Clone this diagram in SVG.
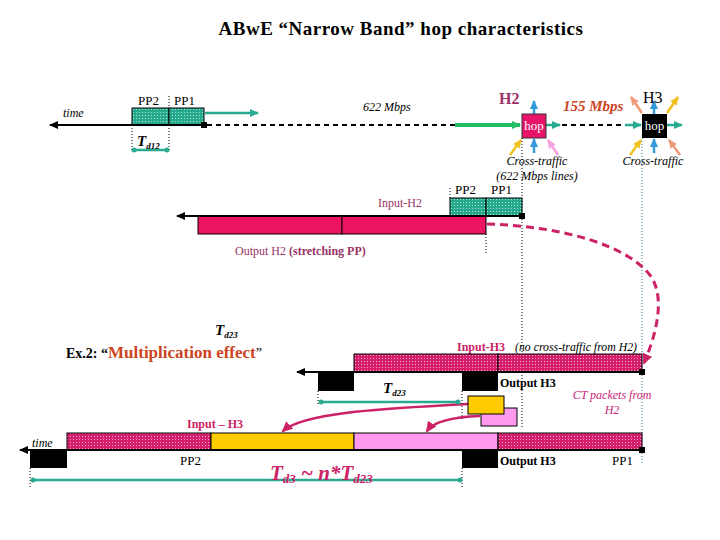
<svg xmlns="http://www.w3.org/2000/svg" width="720" height="540" viewBox="0 0 720 540" font-family="'Liberation Serif', 'DejaVu Serif', 'Times New Roman', serif">
<defs>
<pattern id="tealDots" width="3" height="3" patternUnits="userSpaceOnUse"><rect width="3" height="3" fill="#25a88c"/><rect x="1" y="1" width="1" height="1" fill="#a8e6d6"/></pattern>
<pattern id="pinkDots" width="3" height="3" patternUnits="userSpaceOnUse"><rect width="3" height="3" fill="#d51f6c"/><rect x="1" y="1" width="1" height="1" fill="#f7a8cc"/></pattern>
<marker id="mBlack" markerUnits="userSpaceOnUse" markerWidth="10" markerHeight="10" refX="8" refY="5" orient="auto"><path d="M0,1 L9,5 L0,9 z" fill="#000"/></marker>
<marker id="mTeal" markerUnits="userSpaceOnUse" markerWidth="10" markerHeight="10" refX="8" refY="5" orient="auto"><path d="M0,1 L9,5 L0,9 z" fill="#2aaa90"/></marker>
<marker id="mGreen" markerUnits="userSpaceOnUse" markerWidth="10" markerHeight="10" refX="8" refY="5" orient="auto"><path d="M0,1 L9,5 L0,9 z" fill="#22bb66"/></marker>
<marker id="mBlue" markerUnits="userSpaceOnUse" markerWidth="10" markerHeight="10" refX="8" refY="5" orient="auto"><path d="M0,1 L9,5 L0,9 z" fill="#3399dd"/></marker>
<marker id="mYellow" markerUnits="userSpaceOnUse" markerWidth="10" markerHeight="10" refX="8" refY="5" orient="auto"><path d="M0,1 L9,5 L0,9 z" fill="#f0c020"/></marker>
<marker id="mPink" markerUnits="userSpaceOnUse" markerWidth="10" markerHeight="10" refX="8" refY="5" orient="auto"><path d="M0,1 L9,5 L0,9 z" fill="#f5a0e0"/></marker>
<marker id="mSalmon" markerUnits="userSpaceOnUse" markerWidth="10" markerHeight="10" refX="8" refY="5" orient="auto"><path d="M0,1 L9,5 L0,9 z" fill="#ee9977"/></marker>
<marker id="mCrimson" markerUnits="userSpaceOnUse" markerWidth="12" markerHeight="12" refX="9" refY="6" orient="auto"><path d="M0,1 L11,6 L0,11 z" fill="#cc2266"/></marker>
<marker id="dotTeal" markerUnits="userSpaceOnUse" markerWidth="6" markerHeight="6" refX="3" refY="3"><circle cx="3" cy="3" r="2.5" fill="#2aaa90"/></marker>
</defs>
<style>
text{font-family:'Liberation Serif','DejaVu Serif','Times New Roman',serif;}
.tl{stroke:#000;stroke-width:2;fill:none;}
.dotv{stroke:#000;stroke-width:1;stroke-dasharray:1,2;fill:none;}
.dotb{stroke:#3a7f99;stroke-width:1;stroke-dasharray:1,2;fill:none;}
.teal{stroke:#2aaa90;stroke-width:2.5;fill:none;}
.blue{stroke:#3399dd;stroke-width:2.5;fill:none;}
.yel{stroke:#f0c020;stroke-width:2.5;fill:none;}
.pnk{stroke:#f5a0e0;stroke-width:2.5;fill:none;}
.sal{stroke:#ee9977;stroke-width:2.5;fill:none;}
.dash{stroke:#000;stroke-width:2;stroke-dasharray:5,4;fill:none;}
.crim{stroke:#cc2266;stroke-width:2.5;fill:none;}
.box{stroke:#000;stroke-width:1;}
.lbl{font-size:13px;fill:#000;}
.it{font-style:italic;}
.mag{fill:#993366;}
.hop{font-size:13px;fill:#fff;}
</style>

<text x="401" y="35" text-anchor="middle" font-size="19" font-weight="bold" letter-spacing="0.5">ABwE “Narrow Band” hop characteristics</text>

<g id="row1">
<text x="63" y="117" class="it" font-size="12">time</text>
<text x="138" y="105" class="lbl">PP2</text>
<text x="174" y="105" class="lbl">PP1</text>
<line class="dotv" x1="169" y1="96" x2="169" y2="108"/>
<rect class="box" x="132" y="108" width="37" height="17" fill="url(#tealDots)"/>
<rect class="box" x="169" y="108" width="35" height="17" fill="url(#tealDots)"/>
<line class="tl" x1="204" y1="125" x2="50" y2="125" marker-end="url(#mBlack)"/>
<rect x="201" y="122" width="6" height="6" fill="#000"/>
<line class="teal" x1="205" y1="113" x2="258" y2="113" marker-end="url(#mTeal)"/>
<line class="dotv" x1="132" y1="125" x2="132" y2="152"/>
<line class="dotv" x1="169" y1="125" x2="169" y2="152"/>
<line class="teal" x1="134" y1="150" x2="167" y2="150" marker-start="url(#dotTeal)" marker-end="url(#dotTeal)"/>
<text x="137" y="146" class="it" font-size="15" font-weight="bold">T<tspan font-size="9" dy="3">d12</tspan></text>
<text x="363" y="111" class="it" font-size="12">622 Mbps</text>
</g>

<g id="connectors">
<line class="dash" x1="207" y1="125" x2="455" y2="125"/>
<line x1="455" y1="125" x2="520" y2="125" stroke="#22bb66" stroke-width="4" marker-end="url(#mGreen)"/>
<line class="teal" x1="546" y1="125" x2="560" y2="125" marker-end="url(#mTeal)"/>
<line class="dash" x1="562" y1="125" x2="625" y2="125"/>
<line class="teal" x1="625" y1="125" x2="641" y2="125" marker-end="url(#mTeal)"/>
<line class="teal" x1="667" y1="125" x2="682" y2="125" marker-end="url(#mTeal)"/>
<line class="blue" x1="534" y1="114" x2="534" y2="101" marker-end="url(#mBlue)"/>
<line class="blue" x1="534" y1="153" x2="534" y2="139" marker-end="url(#mBlue)"/>
<line class="yel" x1="510" y1="155" x2="521" y2="140" marker-end="url(#mYellow)"/>
<line class="pnk" x1="558" y1="155" x2="548" y2="140" marker-end="url(#mPink)"/>
<line class="blue" x1="654" y1="114" x2="654" y2="101" marker-end="url(#mBlue)"/>
<line class="blue" x1="654" y1="153" x2="654" y2="139" marker-end="url(#mBlue)"/>
<line class="sal" x1="642" y1="113" x2="631" y2="97" marker-end="url(#mSalmon)"/>
<line class="yel" x1="667" y1="113" x2="678" y2="97" marker-end="url(#mYellow)"/>
<line class="yel" x1="630" y1="155" x2="641" y2="140" marker-end="url(#mYellow)"/>
<line class="sal" x1="680" y1="155" x2="669" y2="140" marker-end="url(#mSalmon)"/>
<line class="dotv" x1="522" y1="138" x2="522" y2="427"/>
<line class="dotb" x1="642" y1="138" x2="642" y2="463"/>
<path d="M487,224 C560,226 630,245 652,278 C665,300 656,335 644,363" stroke="#cc2266" stroke-width="3" stroke-dasharray="8,5" fill="none" marker-end="url(#mCrimson)"/>
<path class="crim" d="M468,404 C400,408 305,411 283,431" marker-end="url(#mCrimson)"/>
<path class="crim" d="M480,416 C452,417 434,421 427,431" marker-end="url(#mCrimson)"/>
</g>

<g id="H2">
<text x="499" y="104" font-size="16" font-weight="bold" class="mag">H2</text>
<rect x="522" y="114" width="24" height="24" fill="#e8146a" stroke="#333" stroke-width="1"/>
<text x="534" y="130" text-anchor="middle" class="hop">hop</text>
<text x="537" y="165" text-anchor="middle" class="it" font-size="12">Cross-traffic</text>
<text x="537" y="180" text-anchor="middle" class="it" font-size="12">(622 Mbps lines)</text>
</g>

<g id="link155">
<text x="563" y="111" class="it" font-size="15" font-weight="bold" fill="#cc4422">155 Mbps</text>
</g>

<g id="H3">
<text x="643" y="103" font-size="16">H3</text>
<rect x="642" y="114" width="25" height="24" fill="#000"/>
<text x="654.5" y="130" text-anchor="middle" class="hop">hop</text>
<text x="653" y="165" text-anchor="middle" class="it" font-size="12">Cross-traffic</text>
</g>

<g id="row2">
<text x="455" y="194" class="lbl">PP2</text>
<text x="491" y="194" class="lbl">PP1</text>
<line class="dotv" x1="450" y1="188" x2="450" y2="198"/>
<rect class="box" x="450" y="198" width="36" height="18" fill="url(#tealDots)"/>
<rect class="box" x="486" y="198" width="36" height="18" fill="url(#tealDots)"/>
<text x="378" y="207" font-size="12" class="mag">Input-H2</text>
<rect class="box" x="198" y="216" width="144" height="18" fill="#ec1462"/>
<rect class="box" x="342" y="216" width="144" height="18" fill="#ec1462"/>
<line class="tl" x1="522" y1="216" x2="177" y2="216" marker-end="url(#mBlack)"/>
<rect x="519" y="213" width="6" height="6" fill="#000"/>
<line class="dotv" x1="486" y1="234" x2="486" y2="253"/>
<text x="235" y="255" font-size="12" class="mag">Output H2 <tspan font-weight="bold">(stretching PP)</tspan></text>
</g>

<g id="row3">
<text x="215" y="335" class="it" font-size="15" font-weight="bold">T<tspan font-size="9" dy="3">d23</tspan></text>
<text x="66" y="358" font-size="14" font-weight="bold">Ex.2:  “<tspan font-size="17" fill="#cc4422">Multiplication effect</tspan><tspan font-weight="normal">”</tspan></text>
<text x="457" y="351" font-size="12" font-weight="bold" fill="#cc2266">Input-H3</text>
<text x="515" y="351" class="it" font-size="11.8">(no cross-traffic from H2)</text>
<rect class="box" x="354" y="354" width="144" height="18" fill="url(#pinkDots)"/>
<rect class="box" x="498" y="354" width="144" height="18" fill="url(#pinkDots)"/>
<line class="tl" x1="642" y1="372" x2="297" y2="372" marker-end="url(#mBlack)"/>
<rect x="639" y="369" width="6" height="6" fill="#000"/>
<rect x="318" y="372" width="36" height="19" fill="#000"/>
<rect x="462" y="372" width="36" height="19" fill="#000"/>
<text x="500" y="387" font-size="12" font-weight="bold">Output H3</text>
<text x="383" y="393" class="it" font-size="15" font-weight="bold">T<tspan font-size="9" dy="3">d23</tspan></text>
<line class="dotv" x1="318" y1="391" x2="318" y2="406"/>
<line class="dotv" x1="462" y1="391" x2="462" y2="420"/>
<line class="teal" x1="321" y1="402" x2="458" y2="402" marker-start="url(#dotTeal)" marker-end="url(#dotTeal)"/>
<text x="612" y="399" text-anchor="middle" class="it" font-size="12" fill="#cc2277">CT packets from</text>
<text x="612" y="414" text-anchor="middle" class="it" font-size="12" fill="#cc2277">H2</text>
</g>

<g id="ctPackets">
<rect class="box" x="481" y="408" width="36" height="18" fill="#ff99ee"/>
<rect class="box" x="468" y="396" width="36" height="18" fill="#ffcc00"/>
</g>

<g id="row4">
<text x="187" y="428" font-size="12" font-weight="bold" fill="#cc2266">Input – H3</text>
<text x="32" y="447" class="it" font-size="12">time</text>
<rect class="box" x="67" y="433" width="144" height="17" fill="url(#pinkDots)"/>
<rect class="box" x="211" y="433" width="143" height="17" fill="#ffcc00"/>
<rect class="box" x="354" y="433" width="144" height="17" fill="#ff99ee"/>
<rect class="box" x="498" y="433" width="144" height="17" fill="url(#pinkDots)"/>
<line class="tl" x1="642" y1="450" x2="20" y2="450" marker-end="url(#mBlack)"/>
<rect x="639" y="447" width="6" height="6" fill="#000"/>
<rect x="30" y="450" width="37" height="18" fill="#000"/>
<rect x="462" y="450" width="36" height="18" fill="#000"/>
<text x="180" y="465" class="lbl">PP2</text>
<text x="500" y="465" font-size="12" font-weight="bold">Output H3</text>
<text x="612" y="465" class="lbl">PP1</text>
<line class="dotv" x1="30" y1="468" x2="30" y2="488"/>
<line class="dotv" x1="462" y1="468" x2="462" y2="488"/>
<line class="teal" x1="33" y1="480" x2="460" y2="480" marker-start="url(#dotTeal)" marker-end="url(#dotTeal)"/>
<text x="270" y="480" class="it" font-size="21" font-weight="bold" fill="#cc2266">T<tspan font-size="13" dy="3">d3</tspan><tspan dy="-3">  ~ n*T</tspan><tspan font-size="13" dy="3">d23</tspan></text>
</g>
</svg>
